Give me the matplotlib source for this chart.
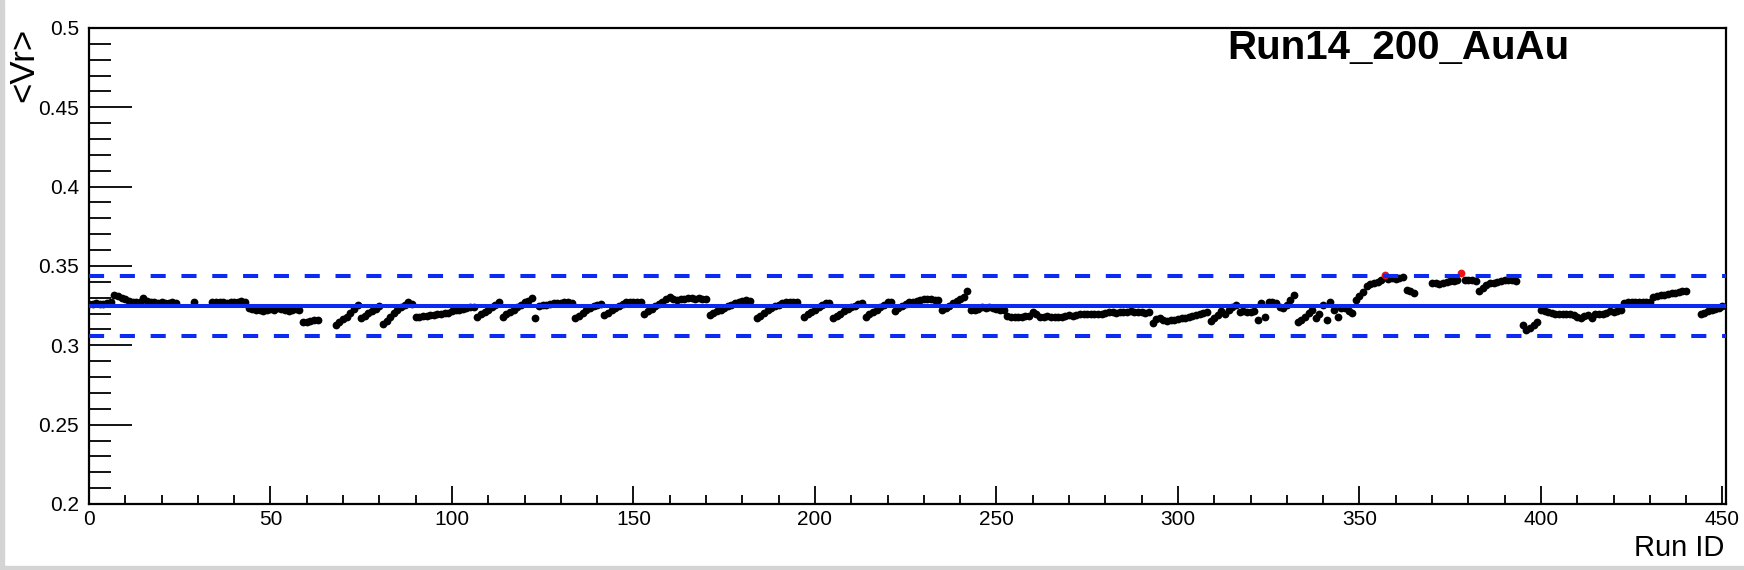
import numpy as np
import matplotlib
matplotlib.use('Agg')
import matplotlib.pyplot as plt
from matplotlib.ticker import MultipleLocator, FormatStrFormatter
from matplotlib.patches import Rectangle

plt.rcParams['font.family'] = ['Liberation Sans', 'DejaVu Sans']

# <Vr> per run, run ID = index (nan = run without entry)
nan = np.nan
vr_mean = [
    0.326, 0.326, 0.3265, 0.326, 0.326, 0.3265, 0.327, 0.3315, 0.331, 0.3295,
    0.329, 0.328, 0.3275, 0.3275, 0.327, 0.3295, 0.328, 0.327, 0.327, 0.3265,
    0.327, 0.3265, 0.3265, 0.327, 0.3265, nan, nan, nan, nan, 0.3275,
    nan, nan, nan, nan, 0.327, 0.3275, 0.327, 0.327, 0.3265, 0.327,
    0.327, 0.327, 0.328, 0.327, 0.3235, 0.323, 0.3225, 0.3225, 0.3215, 0.3225,
    0.323, 0.3225, 0.3235, 0.323, 0.3225, 0.3215, 0.3225, 0.323, 0.3225, 0.315,
    0.3145, 0.3155, 0.316, 0.316, nan, nan, nan, nan, 0.313, 0.3145,
    0.3165, 0.318, 0.3205, 0.323, 0.3255, 0.317, 0.3185, 0.3205, 0.3215, 0.323,
    0.3245, 0.3135, 0.3155, 0.318, 0.3205, 0.322, 0.324, 0.3255, 0.3275, 0.326,
    0.318, 0.318, 0.3185, 0.3185, 0.319, 0.319, 0.3195, 0.32, 0.3205, 0.3205,
    0.3215, 0.322, 0.3225, 0.323, 0.3235, 0.324, 0.324, 0.318, 0.3195, 0.321,
    0.3225, 0.324, 0.3255, 0.3275, 0.318, 0.3195, 0.321, 0.3225, 0.324, 0.3255,
    0.327, 0.328, 0.3295, 0.317, 0.325, 0.3255, 0.3255, 0.326, 0.3265, 0.3265,
    0.3265, 0.327, 0.327, 0.3265, 0.317, 0.3185, 0.3205, 0.322, 0.3235, 0.325,
    0.3255, 0.326, 0.319, 0.3205, 0.322, 0.3235, 0.325, 0.326, 0.327, 0.3275,
    0.327, 0.3275, 0.327, 0.320, 0.3215, 0.323, 0.3245, 0.326, 0.3275, 0.329,
    0.3305, 0.329, 0.3285, 0.329, 0.329, 0.3295, 0.3295, 0.329, 0.3295, 0.329,
    0.329, 0.319, 0.3205, 0.3215, 0.3225, 0.3235, 0.3245, 0.3255, 0.3265, 0.3275,
    0.328, 0.3285, 0.328, nan, 0.317, 0.3185, 0.3205, 0.322, 0.3235, 0.3245,
    0.3255, 0.3265, 0.327, 0.3275, 0.3275, 0.327, nan, 0.318, 0.3195, 0.321,
    0.3225, 0.324, 0.3255, 0.3265, 0.3265, 0.317, 0.3185, 0.32, 0.3215, 0.323,
    0.324, 0.325, 0.326, 0.3265, 0.318, 0.3195, 0.321, 0.3225, 0.324, 0.3255,
    0.327, 0.3275, 0.3215, 0.3235, 0.325, 0.326, 0.327, 0.3275, 0.328, 0.3285,
    0.329, 0.329, 0.329, 0.3285, 0.3285, 0.322, 0.3235, 0.325, 0.3265, 0.328,
    0.329, 0.3305, 0.334, 0.3225, 0.322, 0.323, 0.324, 0.3235, 0.324, 0.3235,
    0.323, 0.3225, 0.322, 0.3185, 0.318, 0.318, 0.318, 0.318, 0.3185, 0.3185,
    0.321, 0.3195, 0.318, 0.318, 0.3185, 0.318, 0.318, 0.318, 0.318, 0.3185,
    0.319, 0.3185, 0.319, 0.3195, 0.3195, 0.3195, 0.320, 0.320, 0.3195, 0.320,
    0.3205, 0.321, 0.321, 0.3205, 0.321, 0.321, 0.321, 0.3215, 0.321, 0.321,
    0.321, 0.3205, 0.321, 0.314, 0.3165, 0.3175, 0.316, 0.3155, 0.316, 0.316,
    0.3165, 0.317, 0.3175, 0.318, 0.3185, 0.319, 0.3195, 0.3205, 0.321, 0.3155,
    0.3175, 0.319, 0.3215, 0.320, 0.322, 0.324, 0.3255, 0.321, 0.3215, 0.321,
    0.321, 0.3215, 0.316, 0.3265, 0.318, 0.327, 0.3275, 0.3265, 0.324, 0.3235,
    0.3255, 0.3285, 0.332, 0.315, 0.316, 0.318, 0.3205, 0.322, 0.317, 0.3195,
    0.3255, 0.316, 0.3275, 0.322, 0.318, 0.3235, 0.3235, 0.3215, 0.3205, 0.3285,
    0.331, 0.3335, 0.3375, 0.3385, 0.339, 0.34, 0.341, 0.344, 0.342, 0.3425,
    0.342, 0.3425, 0.343, 0.335, 0.334, 0.333, nan, nan, nan, nan,
    0.3395, 0.339, 0.3385, 0.3395, 0.340, 0.3405, 0.3405, 0.341, 0.3455, 0.341,
    0.341, 0.341, 0.3405, 0.3345, 0.336, 0.338, 0.339, 0.3395, 0.340, 0.3405,
    0.341, 0.341, 0.341, 0.3405, nan, 0.3125, 0.3095, 0.311, 0.3125, 0.315,
    0.322, 0.3215, 0.321, 0.3205, 0.320, 0.320, 0.3195, 0.3195, 0.3195, 0.319,
    0.318, 0.3175, 0.3185, 0.319, 0.3175, 0.3195, 0.320, 0.320, 0.3205, 0.3215,
    0.321, 0.3215, 0.322, 0.3265, 0.327, 0.327, 0.327, 0.327, 0.3275, 0.3275,
    0.3275, 0.3305, 0.331, 0.332, 0.332, 0.3325, 0.333, 0.333, 0.3335, 0.334,
    0.334, nan, nan, nan, 0.3195, 0.3205, 0.3215, 0.3225, 0.323, 0.3235,
    0.325,
]

run_id = np.arange(len(vr_mean))
vr = np.array(vr_mean)

# average and +-3 sigma band
avg = 0.3246
band = 0.0189

title = 'Run14_200_AuAu'

fig = plt.figure(figsize=(17.44, 5.70), dpi=100)
ax = fig.add_axes([0.051, 0.1158, 0.9895 - 0.051, 0.951 - 0.1158])

out = vr > avg + band
ax.plot(run_id[~out], vr[~out], 'o', color='black', ms=5.6, mew=0, zorder=2)
ax.plot(run_id[out], vr[out], 'o', color='#ee1111', ms=5.6, mew=0, zorder=2)

blue = '#0b2bf2'
ax.axhline(avg, color=blue, lw=2.9, zorder=3)
ax.axhline(avg + band, color=blue, lw=2.9, ls=(0, (3.75, 3.9)), zorder=3)
ax.axhline(avg - band, color=blue, lw=2.9, ls=(0, (3.75, 3.9)), zorder=3)

ax.set_xlim(0, 450.9)
ax.set_ylim(0.2, 0.5)
ax.xaxis.set_major_locator(MultipleLocator(50))
ax.xaxis.set_minor_locator(MultipleLocator(10))
ax.yaxis.set_major_locator(MultipleLocator(0.05))
ax.yaxis.set_minor_locator(MultipleLocator(0.01))
ax.yaxis.set_major_formatter(FormatStrFormatter('%g'))

ax.tick_params(axis='both', which='both', direction='in', top=False, right=False, width=1.3, labelsize=15)
ax.tick_params(axis='y', which='major', length=31, pad=7)
ax.tick_params(axis='y', which='minor', length=15.5)
ax.tick_params(axis='x', which='major', length=13, pad=4)
ax.tick_params(axis='x', which='minor', length=6.5)
for s in ax.spines.values():
    s.set_linewidth(1.6)

fig.text(0.802, 0.916, title, ha='center', va='center', fontsize=29, fontweight='bold')
fig.text(0.9885, 0.039, 'Run ID', ha='right', va='center', fontsize=21)
fig.text(0.0135, 0.951, '<Vr>', ha='center', va='top', rotation=90, fontsize=25)

# grey canvas border like the screenshot
fig.patches.append(Rectangle((0, 0), 0.0025, 1, transform=fig.transFigure, color='#d4d4d4', zorder=0))
fig.patches.append(Rectangle((0, 0), 1, 0.007, transform=fig.transFigure, color='#d4d4d4', zorder=0))

fig.savefig('out.png', dpi=100)
